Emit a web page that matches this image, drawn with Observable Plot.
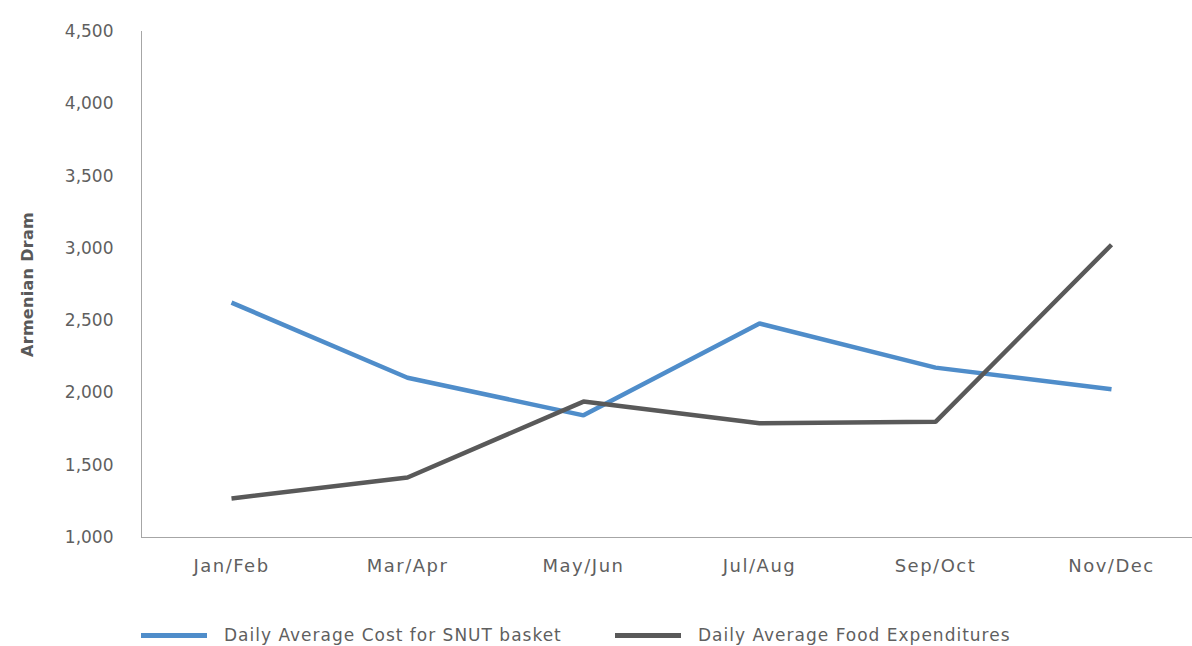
<!DOCTYPE html>
<html>
<head>
<meta charset="utf-8">
<script src="https://cdn.jsdelivr.net/npm/d3@7"></script>
<script src="https://cdn.jsdelivr.net/npm/@observablehq/plot@0.6"></script>
<style>
  html, body { margin: 0; padding: 0; background: #fff; }
  body { width: 1192px; height: 646px; overflow: hidden; font-family: "DejaVu Sans", sans-serif; }
  #chart svg [aria-label="y-axis label"] text { font-weight: bold; font-size: 16px; letter-spacing: 0.3px; fill: #595959; }
  #chart svg [aria-label="x-axis tick label"] text { font-size: 18px; letter-spacing: 1.5px; }
  .legend { position: relative; height: 36px; font-size: 17px; letter-spacing: 1px; color: #5f5f5f; }
  .item { position: absolute; top: 15px; display: flex; align-items: center; height: 20px; }
  .sw { width: 66px; height: 5px; margin-right: 17px; }
</style>
</head>
<body>
<div id="chart"></div>
<div class="legend">
  <div class="item" style="left:141px"><span class="sw" style="background:#4f8dca"></span><span id="l1"></span></div>
  <div class="item" style="left:615px"><span class="sw" style="background:#595959"></span><span id="l2"></span></div>
</div>
<script>
const periods = ["Jan/Feb", "Mar/Apr", "May/Jun", "Jul/Aug", "Sep/Oct", "Nov/Dec"];
const snutCost = [2625, 2105, 1845, 2480, 2175, 2025];
const foodExp = [1270, 1415, 1940, 1790, 1800, 3025];
const seriesNames = ["Daily Average Cost for SNUT basket", "Daily Average Food Expenditures"];
const seriesColors = ["#4f8dca", "#595959"];
const yTicks = [1000, 1500, 2000, 2500, 3000, 3500, 4000, 4500];

document.getElementById("l1").textContent = seriesNames[0];
document.getElementById("l2").textContent = seriesNames[1];

const rows = [];
periods.forEach((p, i) => {
  rows.push({period: p, value: snutCost[i], series: seriesNames[0]});
  rows.push({period: p, value: foodExp[i], series: seriesNames[1]});
});

const chart = Plot.plot({
  width: 1192,
  height: 610,
  marginLeft: 141,
  marginRight: 0,
  marginTop: 31,
  marginBottom: 73,
  style: {fontFamily: "DejaVu Sans, sans-serif", fontSize: "17px", color: "#5f5f5f", background: "#fff"},
  x: {type: "point", domain: periods, range: [141, 1201], padding: 0.5, label: null, tickSize: 0, tickPadding: 22},
  y: {domain: [1000, 4500], ticks: yTicks, tickFormat: d3.format(","), tickSize: 0, tickPadding: 28,
      label: "Armenian Dram", labelArrow: "none", labelAnchor: "center", labelOffset: 120},
  color: {domain: seriesNames, range: seriesColors},
  marks: [
    Plot.frame({anchor: "left", stroke: "#a6a6a6"}),
    Plot.ruleY([1000], {stroke: "#a6a6a6"}),
    Plot.line(rows, {x: "period", y: "value", z: "series", stroke: "series", strokeWidth: 4.5,
      strokeLinecap: "butt", strokeLinejoin: "miter"})
  ]
});
document.getElementById("chart").appendChild(chart);
</script>
</body>
</html>
